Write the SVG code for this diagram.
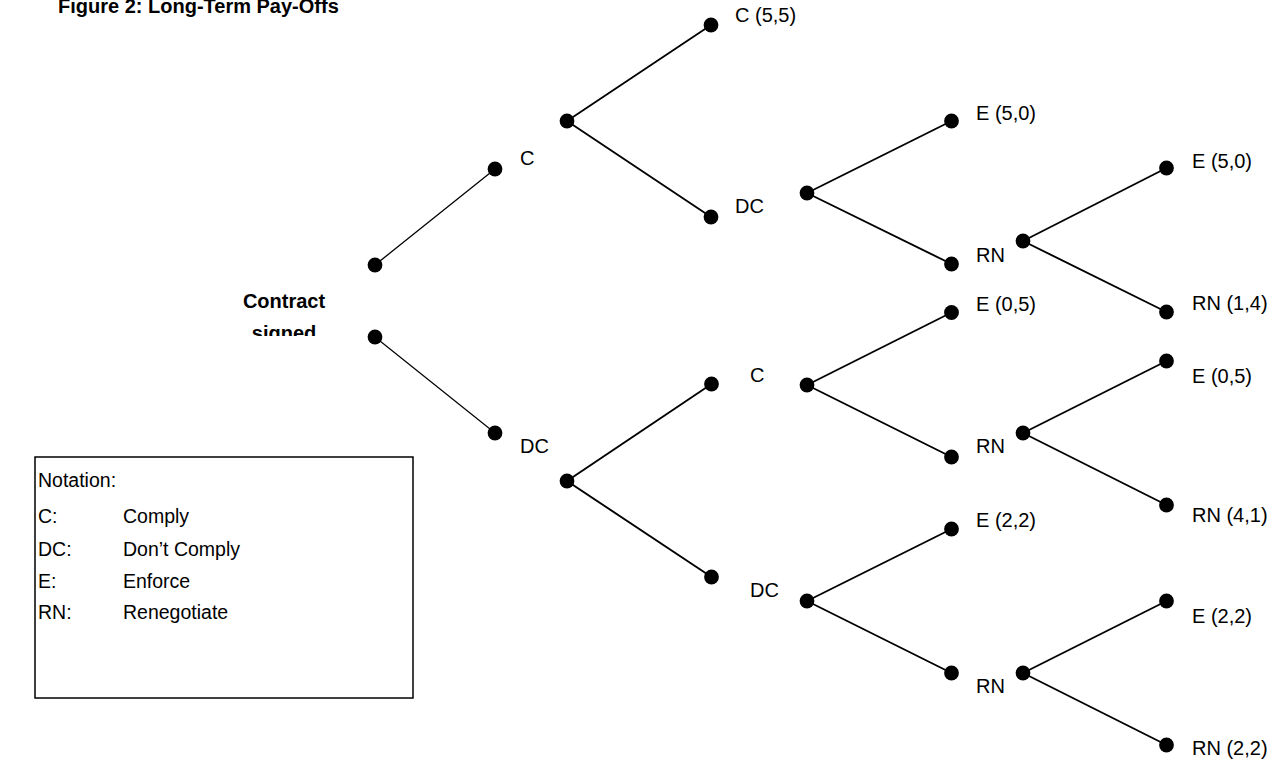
<svg xmlns="http://www.w3.org/2000/svg" width="1281" height="763" viewBox="0 0 1281 763">
<style>
text{font-family:"Liberation Sans",Arial,Helvetica,sans-serif;fill:#000;}
.lbl{font-size:20px;}
.bold{font-size:20px;font-weight:bold;}
.leg{font-size:19.5px;}
.dot{fill:#000;}
.e1{stroke:#000;stroke-width:1.3;}
.e2{stroke:#000;stroke-width:1.9;}
</style>
<defs>
<clipPath id="clipSigned"><rect x="0" y="0" width="1281" height="336"/></clipPath>
</defs>
<rect width="1281" height="763" fill="#fff"/>
<text class="bold" x="58" y="13">Figure 2: Long-Term Pay-Offs</text>
<g id="contract">
<text class="bold" x="284" y="308" text-anchor="middle">Contract</text>
<text class="bold" x="284" y="340" text-anchor="middle" clip-path="url(#clipSigned)">signed</text>
</g>
<g id="connectors">
<line class="e1" x1="375" y1="265" x2="495" y2="169"/>
<line class="e1" x1="375" y1="337" x2="495" y2="433"/>
<line class="e2" x1="567" y1="121" x2="711" y2="25"/>
<line class="e2" x1="567" y1="121" x2="711" y2="217"/>
<line class="e2" x1="567" y1="481" x2="711.5" y2="384"/>
<line class="e2" x1="567" y1="481" x2="711.5" y2="577"/>
<line class="e2" x1="807" y1="193" x2="951.5" y2="121"/>
<line class="e2" x1="807" y1="193" x2="951.5" y2="264"/>
<line class="e2" x1="1023" y1="241" x2="1166.5" y2="168"/>
<line class="e2" x1="1023" y1="241" x2="1166.5" y2="312"/>
<line class="e2" x1="807" y1="385" x2="951.5" y2="312.5"/>
<line class="e2" x1="807" y1="385" x2="951.5" y2="457"/>
<line class="e2" x1="1023" y1="433" x2="1166.5" y2="361"/>
<line class="e2" x1="1023" y1="433" x2="1166.5" y2="505"/>
<line class="e2" x1="807" y1="601" x2="951.5" y2="529"/>
<line class="e2" x1="807" y1="601" x2="951.5" y2="673"/>
<line class="e2" x1="1023" y1="673" x2="1166.5" y2="601"/>
<line class="e2" x1="1023" y1="673" x2="1166.5" y2="745"/>
</g>
<g id="root-top"><circle class="dot" cx="375" cy="265" r="7.4"/></g>
<g id="root-bottom"><circle class="dot" cx="375" cy="337" r="7.4"/></g>
<g id="n-C1"><circle class="dot" cx="495" cy="169" r="7.4"/><text class="lbl" x="520" y="165">C</text></g>
<g id="n-DC1"><circle class="dot" cx="495" cy="433" r="7.4"/><text class="lbl" x="520" y="453">DC</text></g>
<g id="n-a"><circle class="dot" cx="567" cy="121" r="7.4"/></g>
<g id="n-C55"><circle class="dot" cx="711" cy="25" r="7.4"/><text class="lbl" x="735" y="22">C (5,5)</text></g>
<g id="n-DC2"><circle class="dot" cx="711" cy="217" r="7.4"/><text class="lbl" x="735" y="213">DC</text></g>
<g id="n-b"><circle class="dot" cx="807" cy="193" r="7.4"/></g>
<g id="n-E50a"><circle class="dot" cx="951.5" cy="121" r="7.4"/><text class="lbl" x="976" y="120">E (5,0)</text></g>
<g id="n-RNa"><circle class="dot" cx="951.5" cy="264" r="7.4"/><text class="lbl" x="976" y="262">RN</text></g>
<g id="n-c"><circle class="dot" cx="1023" cy="241" r="7.4"/></g>
<g id="n-E50b"><circle class="dot" cx="1166.5" cy="168" r="7.4"/><text class="lbl" x="1192" y="168">E (5,0)</text></g>
<g id="n-RN14"><circle class="dot" cx="1166.5" cy="312" r="7.4"/><text class="lbl" x="1192" y="310">RN (1,4)</text></g>
<g id="n-d"><circle class="dot" cx="567" cy="481" r="7.4"/></g>
<g id="n-C2"><circle class="dot" cx="711.5" cy="384" r="7.4"/><text class="lbl" x="750" y="382">C</text></g>
<g id="n-DC3"><circle class="dot" cx="711.5" cy="577" r="7.4"/><text class="lbl" x="750" y="597">DC</text></g>
<g id="n-e"><circle class="dot" cx="807" cy="385" r="7.4"/></g>
<g id="n-E05a"><circle class="dot" cx="951.5" cy="312.5" r="7.4"/><text class="lbl" x="976" y="311">E (0,5)</text></g>
<g id="n-RNb"><circle class="dot" cx="951.5" cy="457" r="7.4"/><text class="lbl" x="976" y="453">RN</text></g>
<g id="n-f"><circle class="dot" cx="1023" cy="433" r="7.4"/></g>
<g id="n-E05b"><circle class="dot" cx="1166.5" cy="361" r="7.4"/><text class="lbl" x="1192" y="383">E (0,5)</text></g>
<g id="n-RN41"><circle class="dot" cx="1166.5" cy="505" r="7.4"/><text class="lbl" x="1192" y="522">RN (4,1)</text></g>
<g id="n-g"><circle class="dot" cx="807" cy="601" r="7.4"/></g>
<g id="n-E22a"><circle class="dot" cx="951.5" cy="529" r="7.4"/><text class="lbl" x="976" y="527">E (2,2)</text></g>
<g id="n-RNc"><circle class="dot" cx="951.5" cy="673" r="7.4"/><text class="lbl" x="976" y="693">RN</text></g>
<g id="n-h"><circle class="dot" cx="1023" cy="673" r="7.4"/></g>
<g id="n-E22b"><circle class="dot" cx="1166.5" cy="601" r="7.4"/><text class="lbl" x="1192" y="623">E (2,2)</text></g>
<g id="n-RN22"><circle class="dot" cx="1166.5" cy="745" r="7.4"/><text class="lbl" x="1192" y="755">RN (2,2)</text></g>
<g id="legend">
<rect x="35" y="457" width="378" height="241" fill="#fff" stroke="#000" stroke-width="1.5"/>
<text class="leg" x="38" y="487">Notation:</text>
<text class="leg" x="38" y="523">C:</text><text class="leg" x="123" y="523">Comply</text>
<text class="leg" x="38" y="556">DC:</text><text class="leg" x="123" y="556">Don’t Comply</text>
<text class="leg" x="38" y="588">E:</text><text class="leg" x="123" y="588">Enforce</text>
<text class="leg" x="38" y="619">RN:</text><text class="leg" x="123" y="619">Renegotiate</text>
</g>
</svg>
